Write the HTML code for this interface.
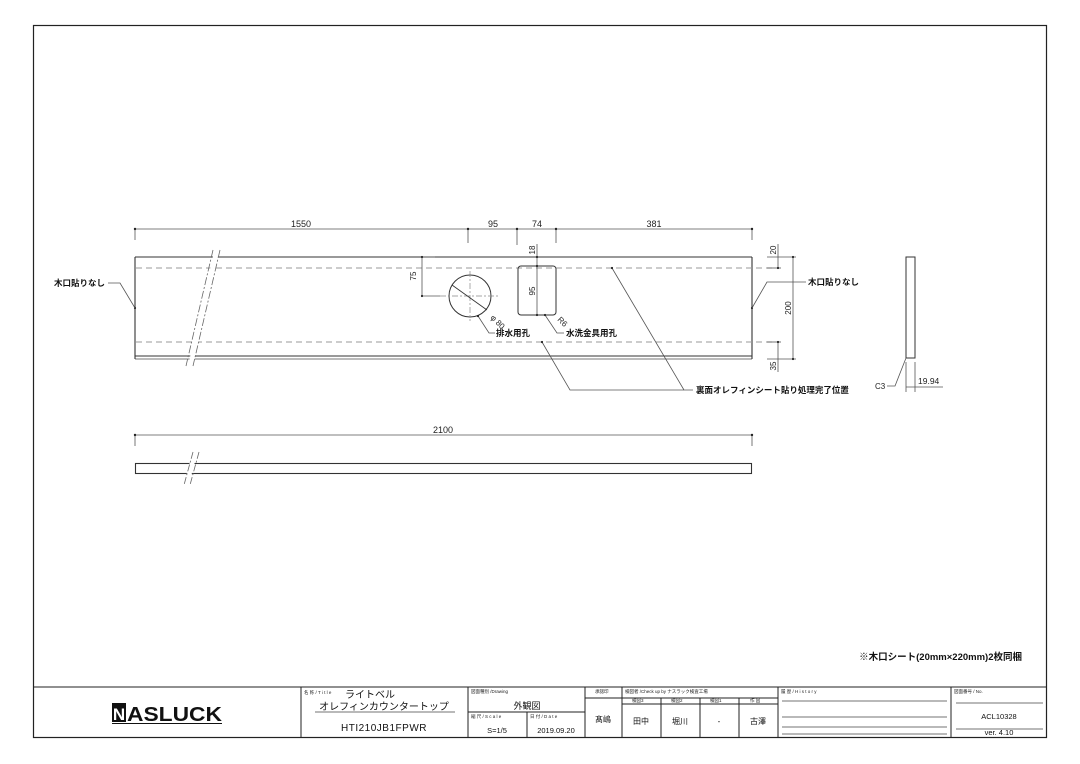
<!DOCTYPE html>
<html><head><meta charset="utf-8"><style>
html,body{margin:0;padding:0;background:#fff;}
svg{display:block;font-family:"Liberation Sans","Noto Sans CJK JP",sans-serif;}
</style></head><body>
<svg width="1080" height="764" viewBox="0 0 1080 764" xmlns="http://www.w3.org/2000/svg">
<rect x="0" y="0" width="1080" height="764" fill="#fff"/>
<rect x="33.5" y="25.5" width="1013" height="712" fill="none" stroke="#222" stroke-width="1.2"/>

<g stroke="#555" stroke-width="0.8" fill="none">
<line x1="135" y1="229" x2="752" y2="229"/>
<line x1="135" y1="229" x2="135" y2="240"/>
<line x1="468" y1="229" x2="468" y2="243"/>
<line x1="517" y1="229" x2="517" y2="245"/>
<line x1="556" y1="229" x2="556" y2="243"/>
<line x1="752" y1="229" x2="752" y2="240"/>
</g>
<g fill="#222"><circle cx="135" cy="229" r="1.2"/><circle cx="468" cy="229" r="1.2"/><circle cx="517" cy="229" r="1.2"/><circle cx="556" cy="229" r="1.2"/><circle cx="752" cy="229" r="1.2"/></g>
<g font-size="9" fill="#222" text-anchor="middle">
<text x="301" y="227">1550</text><text x="493" y="227">95</text><text x="537" y="227">74</text><text x="654" y="227">381</text>
</g>

<g stroke="#333" stroke-width="1.1" fill="none">
<line x1="135" y1="257" x2="752" y2="257"/>
<line x1="135" y1="356" x2="752" y2="356"/>
<line x1="135" y1="359" x2="752" y2="359" stroke="#777"/>
<line x1="135" y1="257" x2="135" y2="359"/>
<line x1="752" y1="257" x2="752" y2="359"/>
</g>
<g stroke="#999" stroke-width="0.9" stroke-dasharray="6,4" fill="none">
<line x1="136" y1="268" x2="775" y2="268"/>
<line x1="136" y1="342" x2="775" y2="342"/>
</g>
<polygon points="214,252 219,252 193,366 188,366" fill="#fff"/>
<g stroke="#666" stroke-width="0.8" stroke-dasharray="8,2,2,2" fill="none">
<line x1="213" y1="250" x2="186" y2="366"/>
<line x1="220" y1="250" x2="193" y2="366"/>
</g>

<circle cx="470" cy="296" r="21" fill="none" stroke="#333" stroke-width="1"/>
<g stroke="#888" stroke-width="0.7" stroke-dasharray="6,2,2,2"><line x1="440" y1="296" x2="500" y2="296"/><line x1="470" y1="271" x2="470" y2="321"/></g>
<line x1="452" y1="285" x2="487" y2="310" stroke="#333" stroke-width="0.8"/>
<text x="490" y="318" font-size="8" fill="#222" transform="rotate(45 490 318)">φ 80</text>
<g stroke="#555" stroke-width="0.8" fill="none">
<line x1="422" y1="257" x2="422" y2="296"/><line x1="422" y1="296" x2="440" y2="296"/><line x1="422" y1="257" x2="435" y2="257"/>
<polyline points="478,316 489,333 495,333"/>
<polyline points="545,315 557,333 564,333"/>
<line x1="537" y1="244" x2="537" y2="315"/>
<polyline points="542,342 570,390 693,390"/>
<polyline points="612,268 684,390"/>
</g>
<text x="416" y="276" font-size="8" fill="#222" transform="rotate(-90 416 276)" text-anchor="middle">75</text>
<text x="535" y="250" font-size="8" fill="#222" transform="rotate(-90 535 250)" text-anchor="middle">18</text>
<text x="535" y="291" font-size="8" fill="#222" transform="rotate(-90 535 291)" text-anchor="middle">95</text>
<text x="557" y="320" font-size="8" fill="#222" transform="rotate(45 557 320)">R6</text>
<rect x="518" y="266" width="38" height="49" rx="3" fill="none" stroke="#333" stroke-width="1"/>
<g fill="#222"><circle cx="422" cy="257" r="1.1"/><circle cx="422" cy="296" r="1.1"/><circle cx="537" cy="257" r="1.1"/><circle cx="537" cy="266" r="1.1"/><circle cx="537" cy="315" r="1.1"/><circle cx="478" cy="316" r="1.1"/><circle cx="545" cy="315" r="1.1"/><circle cx="542" cy="342" r="1.1"/><circle cx="612" cy="268" r="1.1"/><circle cx="135" cy="308" r="1.1"/><circle cx="752" cy="308" r="1.1"/></g>
<g font-size="8.5" fill="#111" font-weight="bold">
<text x="496" y="336">排水用孔</text>
<text x="566" y="336">水洗金具用孔</text>
<text x="696" y="393">裏面オレフィンシート貼り処理完了位置</text>
<text x="54" y="286">木口貼りなし</text>
<text x="808" y="285">木口貼りなし</text>
</g>
<g stroke="#555" stroke-width="0.8" fill="none">
<polyline points="108,283 120,283 135,308"/>
<polyline points="752,308 767,282 806,282"/>
<line x1="793" y1="257" x2="793" y2="359"/>
<line x1="778" y1="257" x2="778" y2="268"/>
<line x1="778" y1="342" x2="778" y2="359"/>
<line x1="767" y1="257" x2="796" y2="257"/><line x1="767" y1="268" x2="781" y2="268"/>
<line x1="767" y1="342" x2="781" y2="342"/><line x1="767" y1="359" x2="796" y2="359"/>
<line x1="778" y1="244" x2="778" y2="257"/><line x1="778" y1="359" x2="778" y2="372"/>
</g>
<g fill="#222"><circle cx="793" cy="257" r="1.1"/><circle cx="793" cy="359" r="1.1"/><circle cx="778" cy="268" r="1.1"/><circle cx="778" cy="342" r="1.1"/></g>
<g font-size="8" fill="#222" text-anchor="middle">
<text x="776" y="250" transform="rotate(-90 776 250)">20</text>
<text x="791" y="308" transform="rotate(-90 791 308)">200</text>
<text x="776" y="366" transform="rotate(-90 776 366)">35</text>
</g>

<rect x="906" y="257" width="9" height="101" fill="none" stroke="#333" stroke-width="1"/>
<g stroke="#555" stroke-width="0.8" fill="none">
<polyline points="887,386 895,386 906,358"/>
<line x1="906" y1="362" x2="906" y2="392"/><line x1="915" y1="362" x2="915" y2="392"/>
<line x1="906" y1="387" x2="943" y2="387"/>
</g>
<text x="875" y="389" font-size="8" fill="#222">C3</text>
<text x="918" y="384" font-size="8.5" fill="#222">19.94</text>

<g stroke="#555" stroke-width="0.8" fill="none">
<line x1="135" y1="435" x2="752" y2="435"/><line x1="135" y1="435" x2="135" y2="446"/><line x1="752" y1="435" x2="752" y2="446"/>
</g>
<circle cx="135" cy="435" r="1.2" fill="#222"/><circle cx="752" cy="435" r="1.2" fill="#222"/>
<text x="443" y="433" font-size="9" fill="#222" text-anchor="middle">2100</text>
<rect x="135.5" y="463.5" width="616" height="10" fill="none" stroke="#333" stroke-width="1.1"/>
<polygon points="191,458 196,458 190,480 185,480" fill="#fff"/>
<g stroke="#666" stroke-width="0.8" stroke-dasharray="7,2,2,2"><line x1="193" y1="452" x2="184" y2="485"/><line x1="199" y1="452" x2="190" y2="485"/></g>

<text x="1022" y="660" font-size="9.5" fill="#111" font-weight="bold" text-anchor="end">※木口シート(20mm×220mm)2枚同梱</text>

<g stroke="#222" stroke-width="1" fill="none">
<line x1="34" y1="687" x2="1046" y2="687"/>
<line x1="301" y1="687" x2="301" y2="737"/>
<line x1="468" y1="687" x2="468" y2="737"/>
<line x1="585" y1="687" x2="585" y2="737"/>
<line x1="622" y1="687" x2="622" y2="737"/>
<line x1="778" y1="687" x2="778" y2="737"/>
<line x1="951" y1="687" x2="951" y2="737"/>
<line x1="527" y1="712" x2="527" y2="737"/>
<line x1="468" y1="712" x2="585" y2="712"/>
<line x1="585" y1="698" x2="778" y2="698"/>
<line x1="622" y1="704" x2="778" y2="704"/>
<line x1="661" y1="698" x2="661" y2="737"/>
<line x1="700" y1="698" x2="700" y2="737"/>
<line x1="739" y1="698" x2="739" y2="737"/>
</g>
<g stroke="#444" stroke-width="0.8">
<line x1="315" y1="712" x2="455" y2="712"/>
<line x1="782" y1="701" x2="947" y2="701"/>
<line x1="782" y1="717" x2="947" y2="717"/>
<line x1="782" y1="727" x2="947" y2="727"/>
<line x1="782" y1="734" x2="947" y2="734"/>
<line x1="956" y1="703" x2="1043" y2="703"/>
<line x1="956" y1="729" x2="1043" y2="729"/>
</g>
<rect x="112" y="703" width="14" height="19" fill="#111"/>
<text x="119" y="720" font-size="17" font-weight="bold" fill="#fff" text-anchor="middle">N</text>
<text x="127" y="721" font-size="20" font-weight="bold" fill="#111" textLength="95" lengthAdjust="spacingAndGlyphs">ASLUCK</text>
<line x1="112" y1="723.5" x2="222" y2="723.5" stroke="#111" stroke-width="1"/>
<g fill="#222" font-size="4.5">
<text x="304" y="694">名 称 / T i t l e</text>
<text x="471" y="693">図面種別 /Drawing</text>
<text x="471" y="718">縮 尺 / S c a l e</text>
<text x="530" y="718">日 付 / D a t e</text>
<text x="595" y="693">承認印</text>
<text x="625" y="693">検図者 /Check up by ナスラック検査工場</text>
<text x="632" y="702">検図3</text><text x="671" y="702">検図2</text><text x="710" y="702">検図1</text><text x="750" y="702">作 図</text>
<text x="781" y="693">履 歴 / H i s t o r y</text>
<text x="954" y="693">図面番号 / No.</text>
</g>
<g fill="#111" font-size="9">
<text x="345" y="698" font-size="10">ライトベル</text>
<text x="384" y="710" text-anchor="middle" font-size="10">オレフィンカウンタートップ</text>
<text x="384" y="731" text-anchor="middle" font-size="10" letter-spacing="0.5">HTI210JB1FPWR</text>
<text x="527" y="709" text-anchor="middle">外観図</text>
<text x="497" y="733" text-anchor="middle" font-size="7.5">S=1/5</text>
<text x="556" y="733" text-anchor="middle" font-size="7.5">2019.09.20</text>
<text x="603" y="722" text-anchor="middle" font-size="8">髙嶋</text>
<text x="641" y="724" text-anchor="middle" font-size="8">田中</text>
<text x="680" y="724" text-anchor="middle" font-size="8">堀川</text>
<text x="719" y="724" text-anchor="middle" font-size="8">-</text>
<text x="758" y="724" text-anchor="middle" font-size="8">古澤</text>
<text x="999" y="719" text-anchor="middle" font-size="7.5">ACL10328</text>
<text x="999" y="735" text-anchor="middle" font-size="7.5">ver. 4.10</text>
</g>
</svg>
</body></html>
